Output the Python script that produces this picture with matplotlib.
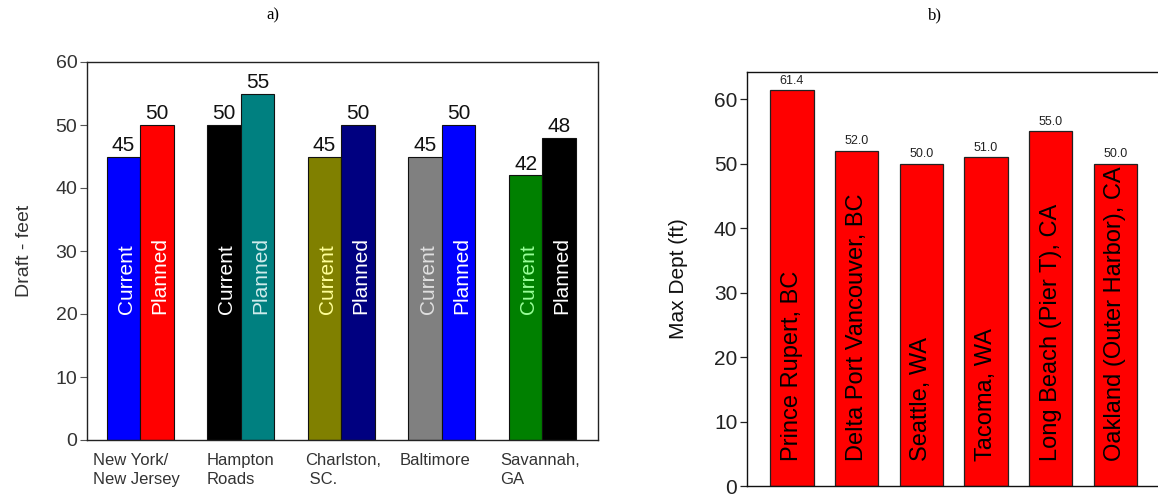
import matplotlib
matplotlib.use("Agg")
import matplotlib.pyplot as plt
import numpy as np

# ---- data: panel a) ----
ports_a = ["New York/\nNew Jersey", "Hampton\nRoads", "Charlston,\n SC.", "Baltimore", "Savannah,\nGA"]
current_draft = [45, 50, 45, 45, 42]
planned_draft = [50, 55, 50, 50, 48]
current_colors = ["#0000FF", "#000000", "#808000", "#808080", "#008000"]
planned_colors = ["#FF0000", "#008080", "#000080", "#0000FF", "#000000"]
current_text_colors = ["#FFFFFF", "#FFFFFF", "#FFFF99", "#E0E0E0", "#99FF99"]
planned_text_colors = ["#FFFFFF", "#D0ECEC", "#FFFFFF", "#FFFFFF", "#FFFFFF"]
series_names = ["Current", "Planned"]

# ---- data: panel b) ----
ports_b = ["Prince Rupert, BC", "Delta Port Vancouver, BC", "Seattle, WA", "Tacoma, WA",
           "Long Beach (Pier T), CA", "Oakland (Outer Harbor), CA"]
max_depth = [61.4, 52.0, 50.0, 51.0, 55.0, 50.0]

plt.rcParams['font.family'] = ['Liberation Sans', 'DejaVu Sans']

W, H = 1158, 501
fig = plt.figure(figsize=(W / 100, H / 100), dpi=100)

# ---------------- panel a ----------------
axa = fig.add_axes([87 / W, (H - 440) / H, 511 / W, 378 / H])
x = np.arange(len(ports_a))
bw = 0.333
axa.bar(x - bw / 2, current_draft, bw, color=current_colors, edgecolor="#111111", linewidth=0.8)
axa.bar(x + bw / 2, planned_draft, bw, color=planned_colors, edgecolor="#111111", linewidth=0.8)
for i in range(len(x)):
    axa.text(x[i] - bw / 2, current_draft[i] + 0.3, f"{current_draft[i]}", ha="center", va="bottom",
             fontsize=15, color="#111111")
    axa.text(x[i] + bw / 2, planned_draft[i] + 0.3, f"{planned_draft[i]}", ha="center", va="bottom",
             fontsize=15, color="#111111")
    axa.text(x[i] - bw / 2 + 0.03, 20, series_names[0], rotation=90, ha="center", va="bottom",
             fontsize=15, color=current_text_colors[i])
    axa.text(x[i] + bw / 2 + 0.03, 20, series_names[1], rotation=90, ha="center", va="bottom",
             fontsize=15, color=planned_text_colors[i])

axa.set_xlim(-0.527, 4.553)
axa.set_ylim(0, 60)
axa.set_yticks(np.arange(0, 61, 10))
axa.set_xticks([])
axa.tick_params(axis="y", direction="out", length=5, width=0.8, colors="#555555",
                labelcolor="#333333", labelsize=14, pad=2)
for s in axa.spines.values():
    s.set_color("#222222")
    s.set_linewidth(1.0)
axa.set_ylabel("Draft - feet", fontsize=14, color="#333333", labelpad=16)

label_offsets = [-0.467, -0.333, -0.363, -0.417, -0.42]
trans = matplotlib.transforms.blended_transform_factory(axa.transData, axa.transAxes)
for i, lab in enumerate(ports_a):
    axa.text(x[i] + label_offsets[i], -0.035, lab, transform=trans, ha="left", va="top",
             fontsize=12, color="#333333", linespacing=1.3)

fig.text(273 / W, 1 - 15 / H, "a)", fontsize=12, family="Liberation Serif", ha="center", va="center")

# ---------------- panel b ----------------
axb = fig.add_axes([747 / W, (H - 486) / H, 411 / W, 414 / H])
xb = np.arange(len(ports_b))
axb.bar(xb, max_depth, 0.67, color="#FF0000", edgecolor="#222222", linewidth=0.9)
for i in range(len(xb)):
    axb.text(xb[i], max_depth[i] + 0.5, f"{max_depth[i]:.1f}", ha="center", va="bottom",
             fontsize=9, color="#222222")
    axb.text(xb[i], 3.9, ports_b[i], rotation=90, ha="center", va="bottom",
             fontsize=17, color="#000000")
axb.set_xlim(-0.696, 5.66)
axb.set_ylim(0, 64.2)
axb.set_yticks(np.arange(0, 61, 10))
axb.set_xticks([])
axb.tick_params(axis="y", direction="out", length=5, width=0.9, colors="#222222",
                labelsize=15, pad=2)
axb.spines["right"].set_visible(False)
for s in ["left", "top", "bottom"]:
    axb.spines[s].set_color("#111111")
    axb.spines[s].set_linewidth(1.0)
axb.set_ylabel("Max Dept (ft)", fontsize=15, color="#111111", labelpad=19)

fig.text(935 / W, 1 - 15 / H, "b)", fontsize=12, family="Liberation Serif", ha="center", va="center")

fig.savefig("out.png", dpi=100)
